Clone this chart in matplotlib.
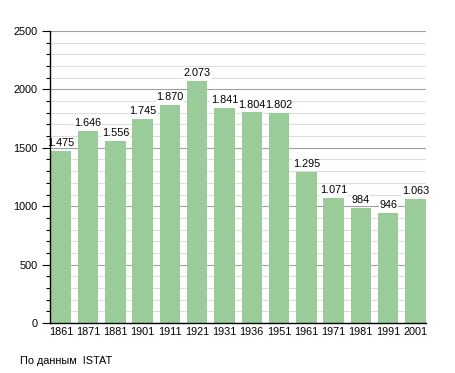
import matplotlib
matplotlib.use("Agg")
import matplotlib.pyplot as plt
from matplotlib.ticker import MultipleLocator

years = ["1861", "1871", "1881", "1901", "1911", "1921", "1931", "1936",
         "1951", "1961", "1971", "1981", "1991", "2001"]
population = [1475, 1646, 1556, 1745, 1870, 2073, 1841, 1804,
              1802, 1295, 1071, 984, 946, 1063]
value_labels = ["1.475", "1.646", "1.556", "1.745", "1.870", "2.073", "1.841",
                "1.804", "1.802", "1.295", "1.071", "984", "946", "1.063"]
caption = "По данным  ISTAT"

plt.rcParams['font.family'] = ['Liberation Sans', 'DejaVu Sans']
FS = 7.8

fig = plt.figure(figsize=(4.55, 3.73), dpi=100)
ax = fig.add_axes([50/455, 1-323/373, (426-50)/455, (323-31)/373])

x = list(range(len(years)))
ax.bar(x, population, width=0.75, color="#99cc99", zorder=3)

for xi, v, lab in zip(x, population, value_labels):
    ax.annotate(lab, (xi, v), xytext=(0, 2), textcoords="offset points",
                ha="center", va="bottom", fontsize=FS, zorder=4,
                bbox=dict(facecolor="white", edgecolor="none", pad=0.3))

ax.set_xlim(-0.40, 13.39)
ax.set_ylim(0, 2500)
ax.set_xticks(x)
ax.set_xticklabels(years, fontsize=FS)
ax.yaxis.set_major_locator(MultipleLocator(500))
ax.yaxis.set_minor_locator(MultipleLocator(100))
ax.tick_params(axis="y", which="major", length=6, width=0.8, labelsize=FS, pad=3)
ax.tick_params(axis="y", which="minor", length=3, width=0.8)
ax.tick_params(axis="x", length=0, pad=3)

ax.grid(axis="y", which="major", color="#a0a0a0", linewidth=0.8, zorder=0)
ax.grid(axis="y", which="minor", color="#dddddd", linewidth=0.8, zorder=0)
ax.set_axisbelow(True)

for s in ["top", "right"]:
    ax.spines[s].set_visible(False)
for s in ["left", "bottom"]:
    ax.spines[s].set_color("black")
    ax.spines[s].set_linewidth(1)
    ax.spines[s].set_zorder(5)

fig.text(20/455, 1-361/373, caption, fontsize=FS, va="center", ha="left")

fig.savefig("out.png", dpi=100)
